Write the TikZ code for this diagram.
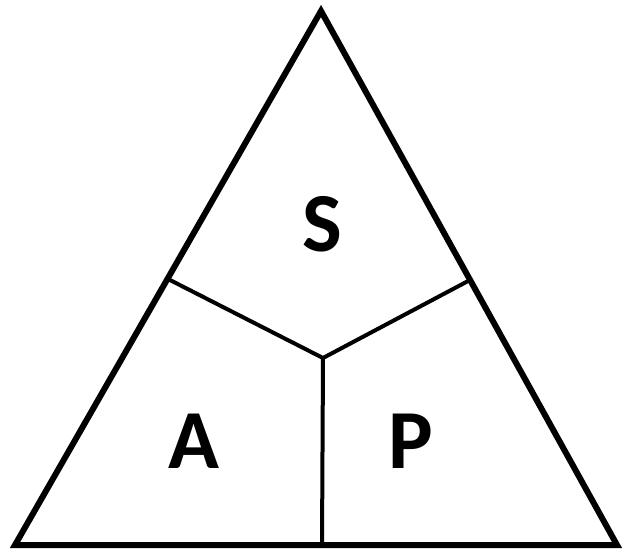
\documentclass[tikz,border=0pt]{standalone}
\usepackage{fontspec}
\setmainfont{Carlito}
\begin{document}
\begin{tikzpicture}[x=1pt,y=-1pt,
  outer/.style={line width=6pt,line join=miter},
  inner/.style={line width=4pt},
  lbl/.style={font=\bfseries\fontsize{84}{84}\selectfont,anchor=base,inner sep=0pt}]
\useasboundingbox (0,0) rectangle (624,550);
\coordinate (top) at (321,11);
\coordinate (bl) at (15,545);
\coordinate (br) at (617,545);
\coordinate (jl) at (168,279);
\coordinate (jr) at (470,280);
\coordinate (c) at (323,358);
\coordinate (cb) at (322,545);
\draw[outer] (top) -- (bl) -- (br) -- cycle;
\draw[inner] (jl) -- (c) -- (jr);
\draw[inner] (c) -- (cb);
\node[lbl] (S) at (322,251) {S};
\node[lbl] (A) at (194,468) {A};
\node[lbl] (P) at (411,468) {P};
\end{tikzpicture}
\end{document}
